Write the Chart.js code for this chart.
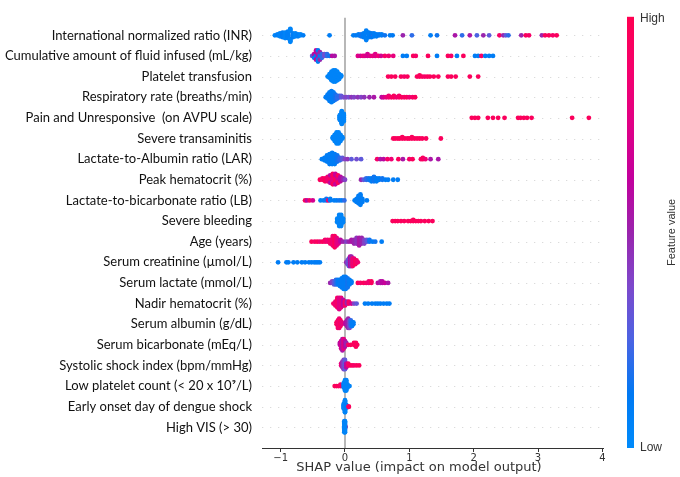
<!DOCTYPE html>
<html>
<head>
<meta charset="utf-8">
<script src="https://cdn.jsdelivr.net/npm/chart.js@4/dist/chart.umd.min.js"></script>
<style>
  html, body { margin: 0; padding: 0; background: #fff; }
</style>
</head>
<body>
<canvas id="shapChart" width="680" height="477"></canvas>
<script>
// feature names, top to bottom
const featureNames = [
  "International normalized ratio (INR)",
  "Cumulative amount of fluid infused (mL/kg)",
  "Platelet transfusion",
  "Respiratory rate (breaths/min)",
  "Pain and Unresponsive  (on AVPU scale)",
  "Severe transaminitis",
  "Lactate-to-Albumin ratio (LAR)",
  "Peak hematocrit (%)",
  "Lactate-to-bicarbonate ratio (LB)",
  "Severe bleeding",
  "Age (years)",
  "Serum creatinine (\u00b5mol/L)",
  "Serum lactate (mmol/L)",
  "Nadir hematocrit (%)",
  "Serum albumin (g/dL)",
  "Serum bicarbonate (mEq/L)",
  "Systolic shock index (bpm/mmHg)",
  "Low platelet count (< 20 x 10\u2079/L)",
  "Early onset day of dengue shock",
  "High VIS (> 30)"
];

// each entry: [SHAP value, feature value (0 low .. 1 high), number of patients]
const inr = [
  [-1.09,0.05,1],[-1.05,0.08,2],[-1.01,0.05,4],[-0.97,0.1,6],[-0.93,0.05,7],[-0.89,0.08,8],
  [-0.85,0.05,7],[-0.81,0.1,5],[-0.77,0.05,4],[-0.73,0.08,3],[-0.69,0.05,2],[-0.65,0.1,1],[-0.24,0.1,1],
  [0.13,0.1,1],[0.17,0.12,1],[0.21,0.1,2],[0.25,0.15,3],[0.29,0.1,5],[0.33,0.08,6],[0.37,0.1,6],
  [0.41,0.12,5],[0.45,0.35,1],[0.45,0.1,3],[0.49,0.1,3],[0.53,0.12,2],[0.57,0.1,2],[0.62,0.15,1],
  [0.70,0.1,1],[0.74,0.12,1],[0.90,0.5,1],[1.04,0.2,1],[1.33,0.1,1],[1.43,0.15,1],
  [1.71,0.55,1],[1.82,0.2,1],[1.94,0.55,1],[2.05,0.25,1],[2.15,0.5,1],[2.24,0.3,1],[2.40,0.9,1],
  [2.46,0.5,1],[2.50,0.3,1],[2.54,0.2,1],[2.74,0.5,1],[2.81,0.95,1],[2.86,0.9,1],[3.06,0.5,1],
  [3.11,0.95,1],[3.17,0.95,1],[3.23,0.9,1],[3.29,0.95,1]
];
const fluid = [
  [-0.51,0.3,1],[-0.48,0.6,2],[-0.48,0.1,1],[-0.45,0.1,3],[-0.45,0.65,3],[-0.42,0.55,4],[-0.42,0.1,3],
  [-0.39,0.1,3],[-0.39,0.5,2],[-0.36,0.2,3],[-0.32,0.35,2],[-0.28,0.2,2],[-0.24,0.15,1],[-0.2,0.6,1],[-0.16,0.55,1],
  [0.2,0.75,1],[0.24,0.7,1],[0.28,0.8,1],[0.31,0.75,1],[0.35,0.7,2],[0.39,0.75,1],[0.43,0.8,1],[0.47,0.75,2],
  [0.52,0.85,1],[0.56,0.7,1],[0.62,0.9,1],[0.68,0.85,1],[0.75,0.8,1],[0.9,0.1,1],[0.96,0.1,1],[1.06,0.95,1],
  [1.1,0.9,1],[1.29,0.95,1],[1.43,0.1,1],[1.6,0.95,1],[1.65,0.9,1],[1.74,0.1,1],[1.84,0.95,1],[2.02,0.1,1],
  [2.07,0.1,1],[2.12,0.9,1],[2.18,0.1,1],[2.24,0.1,1],[2.3,0.1,1]
];
const plateletTransfusion = [
  [-0.27,0.05,1],[-0.24,0.05,4],[-0.21,0.05,8],[-0.18,0.05,10],[-0.15,0.05,10],[-0.12,0.05,8],[-0.09,0.05,5],[-0.06,0.05,2],
  [0.67,0.95,1],[0.72,0.95,1],[0.78,0.95,1],[0.87,0.95,1],[0.92,0.9,1],[0.97,0.95,1],[1.12,0.95,1],[1.16,0.95,2],
  [1.2,0.95,1],[1.24,0.9,1],[1.28,0.95,1],[1.32,0.95,1],[1.38,0.95,1],[1.45,0.95,1],[1.6,0.95,1],[1.65,0.95,1],
  [1.72,0.95,1],[1.94,0.95,1],[2.07,0.95,1]
];
const respRate = [
  [-0.3,0.1,1],[-0.27,0.1,4],[-0.24,0.1,8],[-0.21,0.1,10],[-0.18,0.1,8],[-0.15,0.15,5],[-0.12,0.2,3],[-0.09,0.2,2],
  [-0.06,0.3,2],[-0.02,0.35,1],[0.02,0.4,1],[0.06,0.35,1],[0.1,0.45,1],[0.14,0.4,1],[0.2,0.45,1],[0.25,0.4,1],
  [0.3,0.45,1],[0.38,0.5,1],[0.45,0.55,1],[0.57,0.6,1],[0.6,0.7,1],[0.64,0.8,1],[0.68,0.85,2],[0.72,0.9,1],
  [0.76,0.95,2],[0.8,0.85,1],[0.84,0.9,2],[0.88,0.95,1],[0.92,0.9,1],[0.96,0.95,1],[1.0,0.85,1],[1.05,0.9,1],[1.09,0.95,1]
];
const painUnresponsive = [
  [-0.08,0.05,8],[-0.05,0.05,20],[-0.02,0.05,12],
  [1.97,0.95,1],[2.02,0.95,1],[2.07,0.95,1],[2.22,0.95,1],[2.3,0.95,1],[2.38,0.95,1],[2.48,0.95,1],
  [2.69,0.95,1],[2.73,0.95,1],[2.78,0.95,1],[2.83,0.95,1],[2.9,0.95,1],[3.53,0.95,1],[3.79,0.95,1]
];
const transaminitis = [
  [-0.19,0.05,2],[-0.16,0.05,6],[-0.13,0.05,10],[-0.1,0.05,10],[-0.07,0.05,6],[-0.04,0.05,2],
  [0.75,0.95,1],[0.78,0.95,1],[0.82,0.95,1],[0.85,0.95,1],[0.89,0.95,2],[0.93,0.95,1],[0.97,0.95,1],[1.0,0.95,1],
  [1.04,0.95,2],[1.08,0.95,1],[1.12,0.95,1],[1.16,0.95,1],[1.2,0.95,1],[1.26,0.95,1],[1.49,0.95,1]
];
const lar = [
  [-0.36,0.1,1],[-0.32,0.1,3],[-0.28,0.1,6],[-0.24,0.1,9],[-0.2,0.1,10],[-0.16,0.1,9],[-0.12,0.15,6],[-0.08,0.2,3],
  [-0.04,0.3,2],[0.0,0.4,1],[0.04,0.45,1],[0.1,0.3,1],[0.18,0.35,1],[0.25,0.3,1],[0.5,0.9,1],[0.55,0.55,1],
  [0.6,0.6,1],[0.66,0.9,1],[0.72,0.85,1],[0.83,0.95,1],[0.9,0.55,1],[1.0,0.9,1],[1.05,0.95,1],[1.18,0.9,1],
  [1.21,0.95,2],[1.25,0.85,1],[1.33,0.55,1],[1.45,0.55,1]
];
const peakHct = [
  [-0.39,0.95,1],[-0.35,0.9,2],[-0.31,0.95,3],[-0.27,0.85,4],[-0.23,0.9,4],[-0.23,0.6,2],[-0.19,0.8,5],[-0.19,0.95,3],
  [-0.15,0.95,5],[-0.15,0.65,3],[-0.11,0.7,4],[-0.11,0.95,2],[-0.07,0.6,4],[-0.03,0.5,2],[0.0,0.4,1],
  [0.25,0.5,1],[0.29,0.3,1],[0.33,0.2,2],[0.37,0.15,2],[0.41,0.1,3],[0.45,0.15,4],[0.49,0.1,3],[0.53,0.1,2],
  [0.58,0.15,2],[0.63,0.1,1],[0.67,0.1,1],[0.75,0.1,1],[0.82,0.1,1]
];
const lactateBicarb = [
  [-0.62,0.95,1],[-0.59,0.6,1],[-0.55,0.9,1],[-0.5,0.7,1],[-0.38,0.1,1],[-0.33,0.1,1],[-0.29,0.15,2],[-0.26,0.9,1],
  [-0.23,0.1,2],[-0.17,0.1,1],[-0.13,0.1,1],[-0.09,0.15,1],[-0.05,0.1,1],[-0.01,0.2,1],
  [0.15,0.1,1],[0.18,0.1,3],[0.21,0.1,6],[0.24,0.1,8],[0.27,0.1,3],[0.34,0.1,1]
];
const severeBleeding = [
  [-0.12,0.05,4],[-0.09,0.05,10],[-0.06,0.05,10],[-0.03,0.05,4],
  [0.74,0.95,1],[0.78,0.95,1],[0.82,0.95,1],[0.87,0.95,1],[0.92,0.95,1],[0.98,0.95,1],[1.02,0.95,1],[1.06,0.95,2],
  [1.1,0.95,1],[1.14,0.95,1],[1.18,0.95,1],[1.24,0.95,1],[1.3,0.95,1],[1.36,0.95,1]
];
const age = [
  [-0.52,0.95,1],[-0.47,0.9,1],[-0.43,0.95,1],[-0.39,0.85,1],[-0.35,0.95,1],[-0.31,0.9,2],[-0.27,0.85,2],[-0.23,0.9,3],
  [-0.19,0.85,6],[-0.16,0.95,7],[-0.13,0.8,5],[-0.1,0.75,3],[-0.07,0.6,2],[-0.03,0.5,1],[0.02,0.4,1],[0.06,0.5,1],
  [0.1,0.55,2],[0.14,0.5,3],[0.18,0.45,4],[0.22,0.55,5],[0.26,0.5,4],[0.3,0.4,3],[0.34,0.3,2],[0.38,0.15,2],
  [0.43,0.1,1],[0.47,0.15,1],[0.57,0.1,1]
];
const creatinine = [
  [-1.04,0.1,1],[-0.91,0.1,1],[-0.88,0.1,1],[-0.8,0.1,1],[-0.74,0.1,1],[-0.67,0.1,1],[-0.62,0.1,1],[-0.56,0.1,1],
  [-0.52,0.1,1],[-0.48,0.1,1],[-0.45,0.1,1],[-0.42,0.1,1],[-0.39,0.1,1],
  [0.02,0.5,1],[0.04,0.4,3],[0.06,0.3,5],[0.08,0.6,6],[0.1,0.5,6],[0.12,0.9,5],[0.14,0.8,4],[0.16,0.95,3],[0.18,0.9,2],[0.2,0.85,1]
];
const lactate = [
  [-0.23,0.5,1],[-0.2,0.4,2],[-0.17,0.3,3],[-0.14,0.2,4],[-0.11,0.1,4],[-0.08,0.1,5],[-0.05,0.1,7],[-0.02,0.1,9],
  [0.01,0.1,9],[0.04,0.15,7],[0.07,0.1,4],[0.1,0.1,2],[0.2,0.95,1],[0.24,0.9,1],[0.29,0.95,1],[0.33,0.9,1],
  [0.37,0.85,2],[0.41,0.95,2],[0.51,0.6,1],[0.55,0.55,2],[0.58,0.6,2],[0.62,0.65,1],[0.67,0.55,1]
];
const nadirHct = [
  [-0.18,0.9,1],[-0.15,0.85,3],[-0.12,0.9,6],[-0.09,0.75,7],[-0.06,0.8,6],[-0.03,0.6,4],[0.0,0.9,3],[0.03,0.5,2],
  [0.06,0.9,2],[0.1,0.7,1],[0.14,0.4,1],[0.18,0.3,1],[0.31,0.1,1],[0.36,0.1,1],[0.42,0.1,1],[0.47,0.1,1],
  [0.51,0.1,1],[0.55,0.1,1],[0.6,0.1,1],[0.65,0.1,1],[0.69,0.1,1]
];
const albumin = [
  [-0.13,0.95,2],[-0.11,0.9,5],[-0.09,0.85,6],[-0.07,0.95,4],[-0.05,0.8,2],[0.01,0.6,2],[0.03,0.55,4],[0.05,0.5,6],
  [0.07,0.4,5],[0.09,0.2,4],[0.11,0.1,3],[0.13,0.1,2]
];
const bicarbonate = [
  [-0.08,0.6,2],[-0.06,0.7,5],[-0.04,0.55,7],[-0.02,0.8,6],[0.0,0.6,4],[0.02,0.5,2],[0.05,0.9,1],[0.09,0.95,1],
  [0.14,0.95,2],[0.17,0.95,3],[0.19,0.95,1]
];
const shockIndex = [
  [-0.06,0.8,2],[-0.04,0.5,4],[-0.02,0.4,6],[0.0,0.3,6],[0.02,0.6,3],[0.05,0.9,2],[0.08,0.95,1],[0.11,0.95,1],
  [0.14,0.9,1],[0.18,0.95,1],[0.22,0.95,1]
];
const lowPlatelet = [
  [-0.16,0.95,1],[-0.13,0.95,1],[-0.1,0.95,1],[-0.07,0.9,2],[-0.04,0.95,1],[-0.02,0.05,4],[0.0,0.05,8],[0.02,0.05,8],
  [0.04,0.05,3],[0.07,0.05,1]
];
const earlyOnset = [
  [-0.02,0.05,6],[0.0,0.05,14],[0.02,0.1,4],[0.055,0.9,1],[0.06,0.95,1]
];
const highVis = [
  [0.005,0.95,2],[-0.01,0.05,10],[0.0,0.05,10]
];

const rows = [inr, fluid, plateletTransfusion, respRate, painUnresponsive, transaminitis, lar, peakHct,
  lactateBicarb, severeBleeding, age, creatinine, lactate, nadirHct, albumin, bicarbonate, shockIndex,
  lowPlatelet, earlyOnset, highVis];

const xTicks = [-1, 0, 1, 2, 3, 4];

// shap red_blue colormap, sampled
const cmap = [
  [0, [0, 139, 251]], [0.125, [0, 121, 243]], [0.25, [75, 99, 227]], [0.375, [125, 73, 204]],
  [0.5, [154, 36, 173]], [0.625, [194, 0, 157]], [0.75, [224, 0, 134]], [0.875, [245, 0, 109]], [1, [255, 0, 81]]
];

function colorFor(t) {
  for (let i = 1; i < cmap.length; i++) {
    if (t <= cmap[i][0]) {
      const [t0, c0] = cmap[i - 1], [t1, c1] = cmap[i];
      const f = (t - t0) / (t1 - t0);
      const c = c0.map((v, k) => Math.round(v + (c1[k] - v) * f));
      return `rgb(${c[0]},${c[1]},${c[2]})`;
    }
  }
  return 'rgb(255,0,81)';
}

// beeswarm layout like shap's summary plot: bin x, then stack alternately up/down
function swarm(groups, row) {
  const pts = [];
  groups.forEach(([x, fv, n]) => { for (let k = 0; k < n; k++) pts.push({ x: x, fv: fv }); });
  const xs = pts.map(p => p.x);
  const lo = Math.min(...xs), hi = Math.max(...xs);
  pts.forEach((p, i) => { p.q = Math.round(100 * (p.x - lo) / (hi - lo + 1e-8)); p.i = i; });
  const order = pts.slice().sort((a, b) => a.q - b.q || a.i - b.i);
  let layer = 0, last = -1;
  order.forEach(p => {
    if (p.q !== last) layer = 0;
    p.off = Math.ceil(layer / 2) * ((layer % 2) * 2 - 1);
    layer++;
    last = p.q;
  });
  const m = Math.max(...pts.map(p => p.off + 1));
  return pts.map(p => ({ x: p.x, y: row - p.off * 0.9 * 0.4 / m, c: colorFor(p.fv) }));
}

const extras = {
  id: 'extras',
  beforeDatasetsDraw(chart) {
    const { ctx, chartArea: a, scales: { x, y } } = chart;
    ctx.save();
    // dotted row lines
    ctx.strokeStyle = '#cccccc';
    ctx.lineWidth = 0.7;
    ctx.setLineDash([1.3, 6.7]);
    featureNames.forEach((_, i) => {
      const py = Math.round(y.getPixelForValue(i)) + 0.5;
      ctx.beginPath(); ctx.moveTo(a.left, py); ctx.lineTo(a.right, py); ctx.stroke();
    });
    // zero line
    ctx.setLineDash([]);
    ctx.strokeStyle = '#999999';
    ctx.lineWidth = 1.4;
    const x0 = x.getPixelForValue(0);
    ctx.beginPath(); ctx.moveTo(x0, a.top); ctx.lineTo(x0, a.bottom); ctx.stroke();
    ctx.restore();
  },
  afterDraw(chart) {
    const { ctx, chartArea: a, scales: { x } } = chart;
    ctx.save();
    // x axis label
    ctx.fillStyle = '#333333';
    ctx.font = '13px "DejaVu Sans"';
    ctx.textAlign = 'center';
    ctx.textBaseline = 'middle';
    ctx.fillText('SHAP value (impact on model output)', x.getPixelForValue(1.15), 468);
    // colour bar
    const bx = a.right + 24, bw = 7, top = a.top - 1, bottom = a.bottom;
    const g = ctx.createLinearGradient(0, bottom, 0, top);
    cmap.forEach(([t, c]) => g.addColorStop(t, `rgb(${c[0]},${c[1]},${c[2]})`));
    ctx.fillStyle = g;
    ctx.fillRect(bx, top, bw, bottom - top);
    ctx.fillStyle = '#333333';
    ctx.font = '12px "Liberation Sans"';
    ctx.textAlign = 'left';
    ctx.fillText('High', bx + bw + 6, top + 2);
    ctx.fillText('Low', bx + bw + 6, bottom);
    ctx.translate(bx + 45, (top + bottom) / 2);
    ctx.rotate(-Math.PI / 2);
    ctx.textAlign = 'center';
    ctx.font = '11px "Liberation Sans"';
    ctx.fillText('Feature value', 0, 0);
    ctx.restore();
  }
};

new Chart(document.getElementById('shapChart'), {
  type: 'scatter',
  data: {
    datasets: rows.map((r, i) => ({
      data: swarm(r, i),
      pointRadius: 2.4,
      pointHoverRadius: 2.4,
      pointBorderWidth: 0,
      pointBackgroundColor: ctx => ctx.raw ? ctx.raw.c : '#000'
    })).reverse()
  },
  options: {
    responsive: false,
    animation: false,
    events: [],
    layout: { padding: { top: 8, right: 77, bottom: 0, left: 0 } },
    plugins: { legend: { display: false }, tooltip: { enabled: false } },
    scales: {
      x: {
        type: 'linear',
        min: -1.29,
        max: 4.01,
        afterBuildTicks: s => { s.ticks = xTicks.map(v => ({ value: v })); },
        afterFit: s => { s.height = 29; },
        ticks: {
          callback: v => v < 0 ? '\u2212' + Math.abs(v) : String(v),
          font: { family: 'DejaVu Sans', size: 10 },
          color: '#333333',
          padding: 0,
          maxRotation: 0
        },
        grid: { drawOnChartArea: false, drawTicks: true, tickLength: 4, color: '#333333' },
        border: { display: true, color: '#333333', width: 1 }
      },
      y: {
        type: 'linear',
        reverse: true,
        min: -0.85,
        max: 20.0,
        afterBuildTicks: s => { s.ticks = featureNames.map((_, i) => ({ value: i })); },
        afterFit: s => { s.width = 262; },
        ticks: {
          autoSkip: false,
          callback: v => featureNames[v],
          font: { family: 'Lato', size: 13 },
          color: '#111111',
          padding: 10
        },
        grid: { display: false, drawTicks: false },
        border: { display: false }
      }
    }
  },
  plugins: [extras]
});
</script>
</body>
</html>
